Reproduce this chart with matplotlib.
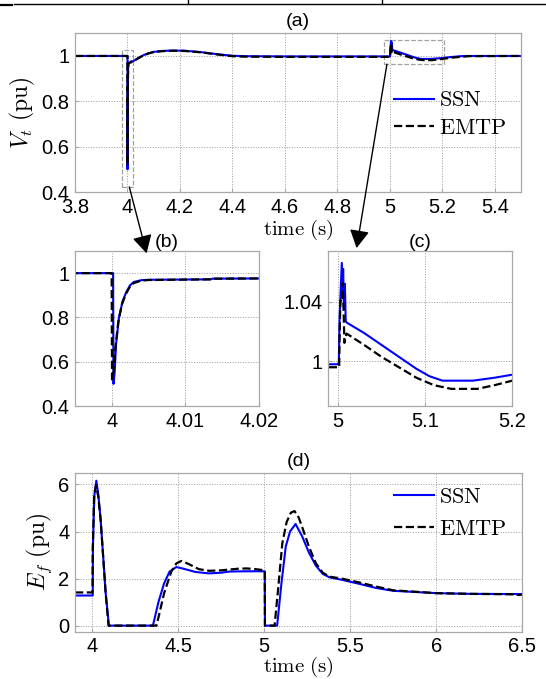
import matplotlib
matplotlib.use('Agg')
import matplotlib.pyplot as plt
from matplotlib.lines import Line2D
from matplotlib.patches import Rectangle, ConnectionPatch
from matplotlib.ticker import FuncFormatter

plt.rcParams['font.family'] = ['Liberation Sans', 'DejaVu Sans']
plt.rcParams['mathtext.fontset'] = 'cm'

# --- terminal voltage Vt (pu) ---
t_vt_ssn = [3.8, 4.0, 4.0002, 4.00025, 4.0004, 4.0006, 4.001, 4.0015, 4.002, 4.0025,
            4.003, 4.004, 4.005, 4.0135, 4.0137, 4.02, 4.04, 4.06, 4.08, 4.1, 4.13,
            4.17, 4.22, 4.28, 4.34, 4.4, 4.45, 4.6, 5.0, 5.001, 5.002, 5.0045, 5.0055,
            5.006, 5.007, 5.008, 5.009, 5.01, 5.03, 5.05, 5.07, 5.09, 5.105, 5.12,
            5.155, 5.18, 5.2, 5.23, 5.27, 5.3, 5.5]
vt_ssn = [1.0, 1.0, 1.0, 0.50, 0.55, 0.68, 0.80, 0.875, 0.915, 0.945,
          0.96, 0.968, 0.970, 0.972, 0.975, 0.976, 0.99, 1.003, 1.012, 1.018, 1.022,
          1.024, 1.023, 1.017, 1.008, 1.001, 0.999, 0.998, 0.998, 0.998, 1.03, 1.066, 1.045,
          1.062, 1.035, 1.052, 1.027, 1.026, 1.019, 1.011, 1.003, 0.995, 0.99, 0.987,
          0.987, 0.989, 0.991, 0.995, 0.999, 1.0, 1.0]

t_vt_emtp = [3.8, 4.0, 4.00005, 4.0003, 4.0005, 4.0009, 4.0014, 4.002, 4.0025, 4.003,
             4.004, 4.005, 4.0135, 4.0137, 4.02, 4.04, 4.06, 4.08, 4.1, 4.13,
             4.17, 4.22, 4.28, 4.34, 4.4, 4.45, 4.6, 5.0, 5.0015, 5.002, 5.003, 5.0045,
             5.0055, 5.0065, 5.0075, 5.0085, 5.01, 5.03, 5.05, 5.07, 5.09, 5.11, 5.13,
             5.16, 5.18, 5.2, 5.24, 5.3, 5.5]
vt_emtp = [1.0, 1.0, 0.52, 0.56, 0.66, 0.78, 0.86, 0.91, 0.94, 0.955,
           0.966, 0.969, 0.972, 0.975, 0.976, 0.989, 1.002, 1.011, 1.017, 1.021,
           1.023, 1.022, 1.016, 1.007, 0.999, 0.997, 0.996, 0.996, 0.996, 1.02, 1.041, 1.04,
           1.0525, 1.035, 1.0124, 1.015, 1.0186, 1.011, 1.003, 0.996, 0.989, 0.984, 0.9815,
           0.9815, 0.984, 0.987, 0.993, 0.999, 1.0]

# --- field voltage Ef (pu) ---
t_ef_ssn = [3.9, 4.003, 4.004, 4.012, 4.024, 4.035, 4.049, 4.065, 4.078, 4.097,
            4.353, 4.385, 4.418, 4.45, 4.489, 4.53, 4.6, 4.68, 4.75, 4.8, 4.9,
            5.003, 5.004, 5.075, 5.1, 5.125, 5.15, 5.182, 5.22, 5.26, 5.3, 5.34,
            5.38, 5.45, 5.55, 5.65, 5.75, 5.9, 6.0, 6.2, 6.5]
ef_ssn = [1.28, 1.28, 3.3, 5.5, 6.16, 5.6, 4.5, 2.8, 1.4, 0.0,
          0.0, 1.0, 1.8, 2.3, 2.49, 2.42, 2.28, 2.22, 2.25, 2.3, 2.31,
          2.31, 0.0, 0.0, 1.8, 3.36, 4.0, 4.32, 3.8, 3.1, 2.55, 2.2,
          2.05, 1.95, 1.78, 1.6, 1.48, 1.42, 1.38, 1.35, 1.34]

t_ef_emtp = [3.9, 4.002, 4.003, 4.012, 4.022, 4.035, 4.049, 4.065, 4.078, 4.095,
             4.374, 4.418, 4.46, 4.49, 4.519, 4.56, 4.62, 4.68, 4.75, 4.85, 4.9, 4.95,
             5.003, 5.004, 5.06, 5.08, 5.105, 5.13, 5.155, 5.176, 5.2, 5.22, 5.26, 5.3,
             5.34, 5.38, 5.45, 5.55, 5.65, 5.75, 5.9, 6.0, 6.2, 6.45, 6.48, 6.5]
ef_emtp = [1.41, 1.41, 3.2, 5.6, 5.95, 5.5, 4.5, 2.8, 1.4, 0.0,
           0.0, 1.38, 2.3, 2.65, 2.75, 2.62, 2.4, 2.33, 2.35, 2.42, 2.43, 2.4,
           2.35, 0.0, 0.0, 1.5, 3.5, 4.4, 4.8, 4.87, 4.6, 4.2, 3.35, 2.65,
           2.25, 2.08, 2.0, 1.84, 1.66, 1.5, 1.43, 1.38, 1.35, 1.33, 1.3, 1.32]

W, H = 546, 679
fig = plt.figure(figsize=(W / 100, H / 100), dpi=100)


def box(l, t, r, b):
    return [l / W, 1 - b / H, (r - l) / W, (b - t) / H]


fmt = FuncFormatter(lambda v, p: f'{v:g}')


def style(ax, xticks, yticks):
    ax.set_xticks(xticks)
    ax.set_yticks(yticks)
    ax.xaxis.set_major_formatter(fmt)
    ax.yaxis.set_major_formatter(fmt)
    ax.grid(True, linestyle=':', color='#9a9a9a', linewidth=0.7)
    for s in ax.spines.values():
        s.set_color('#a8a8a8')
        s.set_linewidth(0.9)
    ax.tick_params(direction='in', length=3, color='#a8a8a8', labelsize=14.5, pad=4)


def curves(ax):
    ax.plot(t_vt_ssn, vt_ssn, color='#0000ff', lw=1.5, label=r'$\mathrm{SSN}$')
    ax.plot(t_vt_emtp, vt_emtp, color='black', lw=1.6, ls='--', label=r'$\mathrm{EMTP}$')


# (a)
ax_a = fig.add_axes(box(75, 33.3, 521, 192))
curves(ax_a)
ax_a.set_xlim(3.8, 5.5)
ax_a.set_ylim(0.4, 1.1)
style(ax_a, [3.8, 4.0, 4.2, 4.4, 4.6, 4.8, 5.0, 5.2, 5.4], [0.4, 0.6, 0.8, 1.0])
ax_a.set_xlabel(r'$\mathrm{time\ (s)}$', labelpad=1, fontsize=15)
ax_a.set_ylabel(r'$V_t\ \mathrm{(pu)}$', labelpad=3, fontsize=17)
ax_a.set_title('(a)', fontsize=14, pad=5)
ax_a.legend(frameon=False, loc='upper left', bbox_to_anchor=(0.715, 0.64),
            borderpad=0, borderaxespad=0, handlelength=1.8, handletextpad=0.25,
            labelspacing=0.3, prop={'size': 16})
ax_a.add_patch(Rectangle((3.979, 0.422), 0.042, 0.603, fill=False, ls='--',
                         ec='#a0a0a0', lw=0.9))
ax_a.add_patch(Rectangle((4.977, 0.965), 0.228, 0.107, fill=False, ls='--',
                         ec='#a0a0a0', lw=0.9))

# (b)
ax_b = fig.add_axes(box(74.9, 251, 258.7, 406))
curves(ax_b)
ax_b.set_xlim(3.995, 4.02)
ax_b.set_ylim(0.4, 1.1)
style(ax_b, [4.0, 4.01, 4.02], [0.4, 0.6, 0.8, 1.0])
ax_b.set_title('(b)', fontsize=14, pad=2)

# (c)
ax_c = fig.add_axes(box(328.3, 251, 512.2, 406))
curves(ax_c)
ax_c.set_xlim(4.989, 5.2)
ax_c.set_ylim(0.97, 1.074)
style(ax_c, [5.0, 5.1, 5.2], [1.0, 1.04])
ax_c.set_title('(c)', fontsize=14, pad=2)

# (d)
ax_d = fig.add_axes(box(75, 472.7, 522.3, 631.5))
ax_d.plot(t_ef_ssn, ef_ssn, color='#0000ff', lw=1.5, label=r'$\mathrm{SSN}$')
ax_d.plot(t_ef_emtp, ef_emtp, color='black', lw=1.6, ls='--', label=r'$\mathrm{EMTP}$')
ax_d.set_xlim(3.9, 6.5)
ax_d.set_ylim(-0.25, 6.5)
style(ax_d, [4, 4.5, 5, 5.5, 6, 6.5], [0, 2, 4, 6])
ax_d.set_xlabel(r'$\mathrm{time\ (s)}$', labelpad=-1, fontsize=15)
ax_d.set_ylabel(r'$E_f\ \mathrm{(pu)}$', labelpad=3, fontsize=17)
ax_d.set_title('(d)', fontsize=14, pad=5)
ax_d.legend(frameon=False, loc='upper left', bbox_to_anchor=(0.713, 0.91),
            borderpad=0, borderaxespad=0, handlelength=1.8, handletextpad=0.25,
            labelspacing=0.5, prop={'size': 16})

# zoom arrows
for xy_a, ax_t, xy_t in [((4.007, 0.422), ax_b, (0.39, 0.985)),
                         ((4.989, 0.964), ax_c, (0.154, 1.019))]:
    con = ConnectionPatch(xyA=xy_a, coordsA=ax_a.transData, xyB=xy_t,
                          coordsB=ax_t.transAxes, arrowstyle='-|>,head_length=0.55,head_width=0.3',
                          mutation_scale=20, color='black', lw=1.0)
    fig.add_artist(con)

# table border remnant at the very top
fig.add_artist(Line2D([14 / W, 1], [1 - 4.3 / H] * 2, color='black', lw=1.0))
fig.add_artist(Line2D([0, 12 / W], [1 - 5 / H] * 2, color='black', lw=1.6))
for xv in [188, 382]:
    fig.add_artist(Line2D([xv / W] * 2, [1 - 4.3 / H, 1], color='black', lw=1.0))

fig.savefig('out.png', dpi=100)
